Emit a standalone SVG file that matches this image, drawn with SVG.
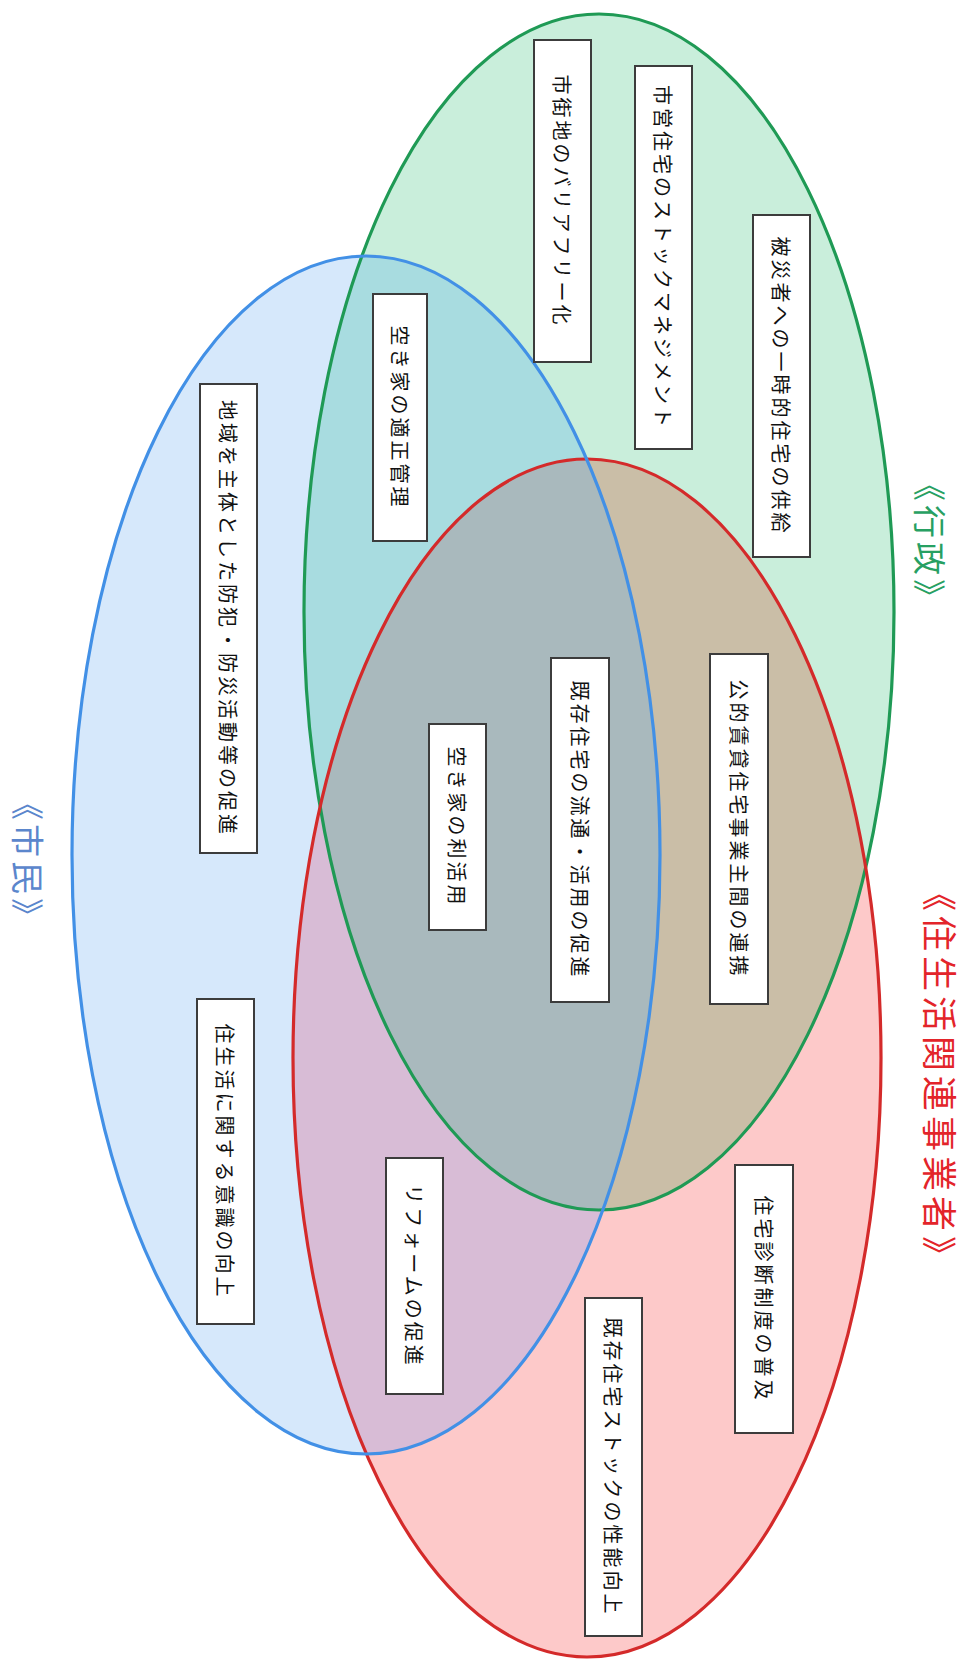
<svg xmlns="http://www.w3.org/2000/svg" width="966" height="1661" viewBox="0 0 966 1661">
<style>
.box{fill:#ffffff;stroke:#3c3c3c;stroke-width:2}
.t{font-family:"Noto Sans CJK JP","Noto Sans CJK SC",sans-serif;font-size:20px;letter-spacing:3px;fill:#111;text-anchor:middle;dominant-baseline:central}
.lbl{font-family:"Noto Sans CJK JP","Noto Sans CJK SC",sans-serif;text-anchor:middle;dominant-baseline:central}
</style>
<defs>
<clipPath id="cb"><ellipse cx="366" cy="855" rx="294" ry="599"/></clipPath>
<clipPath id="cg"><ellipse cx="599" cy="612" rx="295" ry="598"/></clipPath>
<clipPath id="cr"><ellipse cx="587" cy="1058" rx="294" ry="599"/></clipPath>
</defs>
<rect width="966" height="1661" fill="#ffffff"/>
<g id="fills">
<ellipse cx="366" cy="855" rx="294" ry="599" fill="#d6e8fb"/>
<ellipse cx="599" cy="612" rx="295" ry="598" fill="#c9eedb"/>
<ellipse cx="587" cy="1058" rx="294" ry="599" fill="#fdc9c9"/>
<ellipse cx="599" cy="612" rx="295" ry="598" fill="#a8dce0" clip-path="url(#cb)"/>
<ellipse cx="587" cy="1058" rx="294" ry="599" fill="#cabea7" clip-path="url(#cg)"/>
<ellipse cx="587" cy="1058" rx="294" ry="599" fill="#d8bcd6" clip-path="url(#cb)"/>
<g clip-path="url(#cg)"><ellipse cx="587" cy="1058" rx="294" ry="599" fill="#a9b9bd" clip-path="url(#cb)"/></g>
</g>
<g id="outlines" fill="none" stroke-width="3.2">
<ellipse id="gyousei" cx="599" cy="612" rx="295" ry="598" stroke="#1f9a55"/>
<ellipse id="jigyousha" cx="587" cy="1058" rx="294" ry="599" stroke="#d42a2a"/>
<ellipse id="shimin" cx="366" cy="855" rx="294" ry="599" stroke="#4290e6"/>
</g>
<g id="n1"><rect class="box" x="534" y="40" width="57" height="322"/><text class="t" x="562.5" y="201" transform="rotate(90 562.5 201)">市街地のバリアフリー化</text></g>
<g id="n2"><rect class="box" x="635" y="66" width="57" height="383"/><text class="t" x="663.5" y="257.5" transform="rotate(90 663.5 257.5)">市営住宅のストックマネジメント</text></g>
<g id="n3"><rect class="box" x="753" y="215" width="57" height="342"/><text class="t" x="781.5" y="386" transform="rotate(90 781.5 386)">被災者への一時的住宅の供給</text></g>
<g id="n4"><rect class="box" x="373" y="294" width="54" height="247"/><text class="t" x="400" y="417.5" transform="rotate(90 400 417.5)">空き家の適正管理</text></g>
<g id="n5"><rect class="box" x="200" y="384" width="57" height="469"/><text class="t" x="228.5" y="618.5" transform="rotate(90 228.5 618.5)">地域を主体とした防犯・防災活動等の促進</text></g>
<g id="n6"><rect class="box" x="429" y="724" width="57" height="206"/><text class="t" x="457.5" y="827" transform="rotate(90 457.5 827)">空き家の利活用</text></g>
<g id="n7"><rect class="box" x="551" y="658" width="58" height="344"/><text class="t" x="580" y="830" transform="rotate(90 580 830)">既存住宅の流通・活用の促進</text></g>
<g id="n8"><rect class="box" x="710" y="654" width="58" height="350"/><text class="t" x="739" y="829" transform="rotate(90 739 829)">公的賃貸住宅事業主間の連携</text></g>
<g id="n9"><rect class="box" x="197" y="999" width="57" height="325"/><text class="t" x="225.5" y="1161.5" transform="rotate(90 225.5 1161.5)">住生活に関する意識の向上</text></g>
<g id="n10"><rect class="box" x="386" y="1158" width="57" height="236"/><text class="t" x="414.5" y="1276" transform="rotate(90 414.5 1276)">リフォームの促進</text></g>
<g id="n11"><rect class="box" x="585" y="1298" width="57" height="338"/><text class="t" x="613.5" y="1467" transform="rotate(90 613.5 1467)">既存住宅ストックの性能向上</text></g>
<g id="n12"><rect class="box" x="735" y="1165" width="58" height="268"/><text class="t" x="764" y="1299" transform="rotate(90 764 1299)">住宅診断制度の普及</text></g>
<g id="labels">
<text class="lbl" x="29" y="861" font-size="33" letter-spacing="4" fill="#5b86cc" transform="rotate(90 29 861)">《市民》</text>
<text class="lbl" x="931" y="542" font-size="33" letter-spacing="4" fill="#27a062" transform="rotate(90 931 542)">《行政》</text>
<text class="lbl" x="941" y="1076" font-size="35" letter-spacing="5" fill="#e3242a" transform="rotate(90 941 1076)">《住生活関連事業者》</text>
</g>
</svg>
